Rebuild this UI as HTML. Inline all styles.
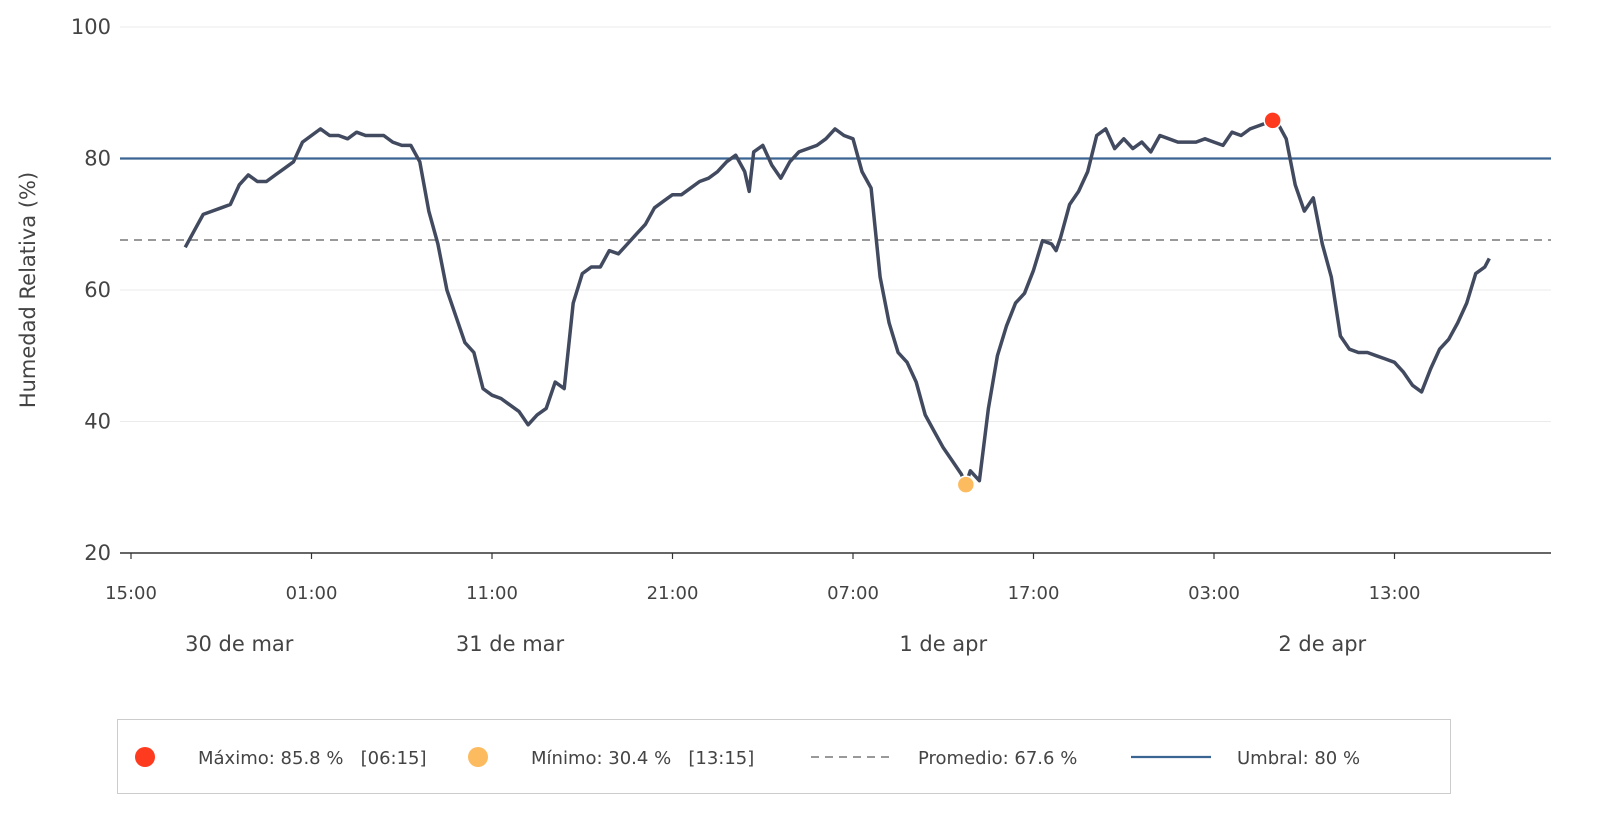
<!DOCTYPE html>
<html><head><meta charset="utf-8">
<style>
html,body{margin:0;padding:0;background:#fff;overflow:hidden;width:1601px;height:828px;font-family:"Liberation Sans","DejaVu Sans",sans-serif;}
svg{display:block;}
svg text{font-family:"DejaVu Sans","Liberation Sans",sans-serif;fill:#444;}
</style></head>
<body>
<svg id="chart" width="1601" height="828" viewBox="0 0 1601 828" xmlns="http://www.w3.org/2000/svg"></svg>
<script>
const hours = [3,3.5,4,4.5,5,5.5,6,6.5,7,7.5,8,8.5,9,9.5,10,10.5,11,11.5,12,12.5,13,13.5,14,14.5,15,15.5,16,16.5,17,17.5,18,18.5,19,19.5,20,20.5,21,21.5,22,22.5,23,23.5,24,24.5,25,25.5,26,26.5,27,27.5,28,28.5,29,29.5,30,30.5,31,31.5,32,32.5,33,33.5,34,34.25,34.5,35,35.5,36,36.5,37,37.5,38,38.5,39,39.5,40,40.5,41,41.5,42,42.5,43,43.5,44,44.5,45,45.5,46,46.25,46.5,47,47.5,48,48.5,49,49.5,50,50.5,51,51.25,51.5,52,52.5,53,53.5,54,54.5,55,55.5,56,56.5,57,57.5,58,58.5,59,59.5,60,60.5,61,61.5,62,62.5,63,63.25,63.5,64,64.5,65,65.5,66,66.5,67,67.5,68,68.5,69,69.5,70,70.5,71,71.5,72,72.5,73,73.5,74,74.5,75,75.25];
const humidity = [66.5,69,71.5,72,72.5,73,76,77.5,76.5,76.5,77.5,78.5,79.5,82.5,83.5,84.5,83.5,83.5,83,84,83.5,83.5,83.5,82.5,82,82,79.5,72,67,60,56,52,50.5,45,44,43.5,42.5,41.5,39.5,41,42,46,45,58,62.5,63.5,63.5,66,65.5,67,68.5,70,72.5,73.5,74.5,74.5,75.5,76.5,77,78,79.5,80.5,78,75,81,82,79,77,79.5,81,81.5,82,83,84.5,83.5,83,78,75.5,62,55,50.5,49,46,41,38.5,36,34,32,30.4,32.5,31,42,50,54.5,58,59.5,63,67.5,67,66,68,73,75,78,83.5,84.5,81.5,83,81.5,82.5,81,83.5,83,82.5,82.5,82.5,83,82.5,82,84,83.5,84.5,85,85.5,85.8,85.5,83,76,72,74,67,62,53,51,50.5,50.5,50,49.5,49,47.5,45.5,44.5,48,51,52.5,55,58,62.5,63.5,64.8];
const yTicks = [20,40,60,80,100];
const xTickLabels = ["15:00","01:00","11:00","21:00","07:00","17:00","03:00","13:00"];
const dateLabels = ["30 de mar","31 de mar","1 de apr","2 de apr"];
const dateHours = [6,21,45,66];
const maxVal = 85.8, maxHour = 63.25, minVal = 30.4, minHour = 46.25;
const avgVal = 67.6, threshold = 80;

const svg = document.getElementById('chart');
const NS = 'http://www.w3.org/2000/svg';
const X0 = 131, PXH = 18.05, PL = 120, PR = 1551;
const Y100 = 27, Y20 = 553;
const x = h => X0 + h * PXH;
const y = v => Y20 - (v - 20) * (Y20 - Y100) / 80;
function mk(tag, attrs, parent){const e=document.createElementNS(NS,tag);for(const k in attrs)e.setAttribute(k,attrs[k]);(parent||svg).appendChild(e);return e;}

yTicks.forEach(v=>{
  if(v>20){const g=mk('line',{x1:PL,x2:PR,y1:y(v),y2:y(v),stroke:'#ebebeb','stroke-width':1});
  
  }
  const t=mk('text',{x:111,y:y(v)+7,'text-anchor':'end','font-size':21});
  t.textContent=v;
  
  
});
const yt=mk('text',{transform:'translate(35,290) rotate(-90)','text-anchor':'middle','font-size':21});
yt.textContent='Humedad Relativa (%)';



const ax=mk('line',{x1:PL,x2:PR,y1:Y20,y2:Y20,stroke:'#333','stroke-width':1.5});


xTickLabels.forEach((lab,i)=>{
  const xx=x(i*10);
  const tk=mk('line',{x1:xx,x2:xx,y1:Y20,y2:Y20+6,stroke:'#333','stroke-width':1.2});
  
  
  const t=mk('text',{x:xx,y:599,'text-anchor':'middle','font-size':18});
  t.textContent=lab;
  
  
});
dateLabels.forEach((lab,i)=>{
  const t=mk('text',{x:x(dateHours[i]),y:651,'text-anchor':'middle','font-size':21});
  t.textContent=lab;
  
  
});

const avg=mk('line',{x1:PL,x2:PR,y1:y(avgVal),y2:y(avgVal),stroke:'#999','stroke-width':2,'stroke-dasharray':'8,6'});


const thr=mk('line',{x1:PL,x2:PR,y1:y(threshold),y2:y(threshold),stroke:'#3a6592','stroke-width':2.2});



const d=hours.map((h,i)=>(i?'L':'M')+x(h).toFixed(1)+','+y(humidity[i]).toFixed(1)).join(' ');
const ln=mk('path',{d:d,fill:'none',stroke:'#424a60','stroke-width':3.5,'stroke-linejoin':'round'});



const mx=mk('circle',{cx:x(maxHour),cy:y(maxVal),r:8.5,fill:'#ff3b1f',stroke:'#fff','stroke-width':1.5});


const mn=mk('circle',{cx:x(minHour),cy:y(minVal),r:8.5,fill:'#fdbb5f',stroke:'#fff','stroke-width':1.5});



const lg=mk('g',{});


mk('rect',{x:117.5,y:719.5,width:1333,height:74,fill:'#fff',stroke:'#ccc','stroke-width':1},lg);
mk('circle',{cx:145,cy:757,r:10,fill:'#ff3b1f'},lg);
mk('circle',{cx:478,cy:757,r:10,fill:'#fdbb5f'},lg);
mk('line',{x1:811,x2:891,y1:757,y2:757,stroke:'#999','stroke-width':2,'stroke-dasharray':'8,6'},lg);
mk('line',{x1:1131,x2:1211,y1:757,y2:757,stroke:'#3a6592','stroke-width':2.2},lg);
[[198,'Máximo: 85.8 %   [06:15]'],[531,'Mínimo: 30.4 %   [13:15]'],[918,'Promedio: 67.6 %'],[1237,'Umbral: 80 %']].forEach(a=>{
  const t=mk('text',{x:a[0],y:764,'font-size':18},lg);
  t.setAttribute('style','white-space:pre');
  t.textContent=a[1];
  
  
});
</script>
</body></html>
